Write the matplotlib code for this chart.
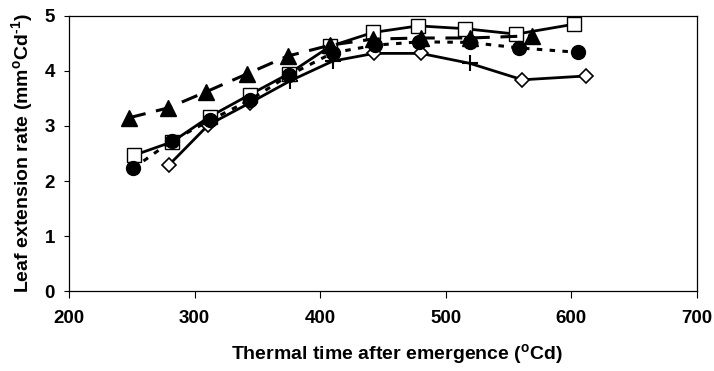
import matplotlib
matplotlib.use("Agg")
from matplotlib import pyplot as plt

# open squares, solid line
sq_x = [252, 282, 312, 344, 375, 408, 442, 478, 515, 556, 602]
sq_y = [2.47, 2.71, 3.17, 3.57, 3.95, 4.45, 4.70, 4.82, 4.77, 4.67, 4.85]

# filled circles, short dashes
ci_x = [251, 282, 312, 344, 375, 410, 444, 479, 519, 558, 605]
ci_y = [2.23, 2.73, 3.10, 3.47, 3.92, 4.33, 4.47, 4.53, 4.52, 4.42, 4.34]

# filled triangles, long dashes
tr_x = [248, 279, 309, 342, 374, 408, 442, 480, 519, 569]
tr_y = [3.15, 3.33, 3.62, 3.95, 4.27, 4.47, 4.58, 4.60, 4.60, 4.64]

# open diamonds and plus marks share one solid line
di_x = [280, 311, 344, 443, 480, 561, 612]
di_y = [2.30, 3.02, 3.42, 4.32, 4.32, 3.84, 3.91]
pl_x = [376, 410, 519]
pl_y = [3.82, 4.18, 4.14]

x_ticks = [200, 300, 400, 500, 600, 700]
y_ticks = [0, 1, 2, 3, 4, 5]

plt.rcParams["font.family"] = ["Liberation Sans", "DejaVu Sans"]
plt.rcParams["font.weight"] = "bold"
plt.rcParams["mathtext.fontset"] = "custom"
plt.rcParams["mathtext.bf"] = "Liberation Sans:bold"
plt.rcParams["mathtext.rm"] = "Liberation Sans:bold"

fig = plt.figure(figsize=(7.14, 3.71), dpi=100)
ax = fig.add_axes([0.0966, 0.2156, 0.8796, 0.7413])

# diamond / plus line
dp = sorted(zip(di_x + pl_x, di_y + pl_y))
ax.plot([p[0] for p in dp], [p[1] for p in dp], color="k", lw=2.0, zorder=2)
ax.plot(di_x, di_y, ls="none", marker="D", ms=7.5, mfc="white", mec="k",
        mew=1.2, zorder=3)
ax.plot(pl_x, pl_y, ls="none", marker="+", ms=12, mec="k", mew=1.5, zorder=3)

# squares
ax.plot(sq_x, sq_y, color="k", lw=2.0, marker="s", ms=10.5, mfc="white",
        mec="k", mew=1.0, zorder=4)

# circles
ax.plot(ci_x, ci_y, color="k", lw=2.2, dashes=(1.8, 2.4), marker="o",
        ms=10, mfc="k", mec="k", zorder=5)

# triangles
ax.plot(tr_x, tr_y, color="k", lw=2.2, dashes=(5.5, 3.5), marker="^",
        ms=11, mfc="k", mec="k", zorder=6)

ax.set_xlim(200, 700)
ax.set_ylim(0, 5)
ax.set_xticks(x_ticks)
ax.set_yticks(y_ticks)
ax.tick_params(axis="x", direction="out", length=5, width=0.8,
               labelsize=13.5, pad=9, color="k")
ax.tick_params(axis="y", direction="out", length=3.6, width=0.8,
               labelsize=13.5, pad=6.5, color="k")
for s in ax.spines.values():
    s.set_linewidth(0.9)

ax.set_xlabel(r"Thermal time after emergence ($^{\mathbf{o}}$Cd)",
              fontsize=14, fontweight="bold", labelpad=11)
ax.xaxis.label.set_x(0.522)
ax.set_ylabel(r"Leaf extension rate (mm$^{\mathbf{o}}$Cd$^{\text{-1}}$)",
              fontsize=14, fontweight="bold", labelpad=6)

fig.savefig("out.png", dpi=100)
